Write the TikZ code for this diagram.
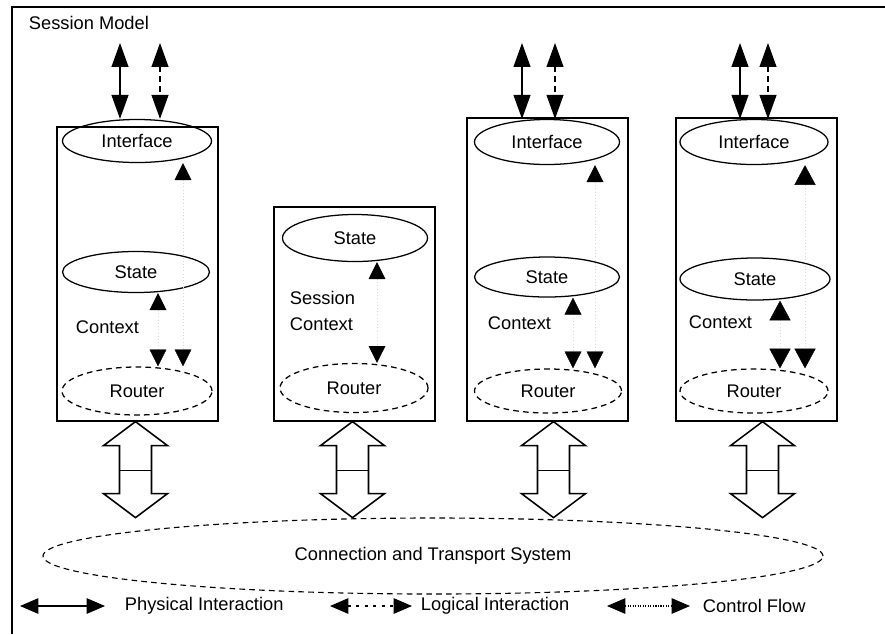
\documentclass[tikz,border=0pt]{standalone}
\usepackage{fontspec}
\setmainfont{Liberation Sans}
\usetikzlibrary{arrows.meta,shapes.geometric,calc}

\def\px{0.025cm}

\tikzset{
    layerbox/.style={draw,line width=0.9pt,inner sep=0pt,minimum width=161*\px},
    part/.style={draw,ellipse,line width=0.9pt,inner sep=0pt,minimum width=147*\px,minimum height=43*\px},
    router/.style={part,dashed,dash pattern=on 4pt off 3pt},
    phys/.style={line width=0.9pt,{Triangle[length=17pt,width=12pt]}-{Triangle[length=17pt,width=12pt]}},
    logic/.style={phys,dashed,dash pattern=on 4pt off 3pt},
    ctrl/.style={line width=0.3pt,black!15,dotted,{Triangle[length=12pt,width=12pt,black]}-{Triangle[length=12pt,width=12pt,black]}},
    bigctrl/.style={ctrl,{Triangle[length=14pt,width=15pt,black]}-{Triangle[length=14pt,width=15pt,black]}},
    legendtip/.style={line width=0.8pt,{Triangle[length=13pt,width=11pt]}-{Triangle[length=13pt,width=11pt]}},
    duplex/.pic={
        \draw[line width=1.1pt,line join=miter] (0,0) -- (32,24) -- (16,24) -- (16,72) -- (32,72)
            -- (0,96) -- (-32,72) -- (-16,72) -- (-16,24) -- (-32,24) -- cycle;
        \draw[line width=0.9pt] (-16,49) -- (16,49);
    }
}

\begin{document}
\begin{tikzpicture}[x={(\px,0)},y={(0,-\px)},
    every node/.style={font=\fontsize{13}{15}\selectfont}]
    \useasboundingbox (0,0) rectangle (885,634);

    % frame of the session model
    \draw[line width=0.9pt] (12,634) -- (12,7) -- (885,7);
    \node[anchor=west] (title) at (24,23) {Session Model};

    % first host
    \node[layerbox,minimum height=294*\px] (box1) at (137.5,274) {};
    \node[part,minimum width=149*\px] (if1) at (137,141) {Interface};
    \node[part,minimum height=41*\px] (st1) at (136,272) {State};
    \node[router,minimum width=150*\px,minimum height=48*\px] (rt1) at (137,391) {Router};
    \node[anchor=west] (cx1) at (71,327) {Context};

    \coordinate (u1a) at (120,43);
    \coordinate (u1b) at (160,43);
    \draw[phys] (u1a) -- (u1a |- if1.north);
    \draw[logic] (u1b) -- (u1b |- if1.north);

    \coordinate (c1a) at (158,0);
    \coordinate (c1b) at (183,0);
    \draw[ctrl] (st1.south -| c1a) -- (rt1.north -| c1a);
    \draw[ctrl] (if1.south -| c1b) -- (rt1.north -| c1b);

    % second host
    \node[layerbox,minimum height=214*\px] (box2) at (354.5,314) {};
    \node[part,minimum width=145*\px,minimum height=47*\px] (st2) at (355,238) {State};
    \node[router,minimum width=148*\px,minimum height=49*\px] (rt2) at (354,388) {Router};
    \node[anchor=west,align=left,font=\fontsize{13}{19}\selectfont] (cx2) at (285,311) {Session\\Context};

    \coordinate (c2) at (377,0);
    \draw[ctrl] (st2.south -| c2) -- (rt2.north -| c2);

    % third host
    \node[layerbox,minimum height=303*\px] (box3) at (547.5,269.5) {};
    \node[part,minimum width=145*\px,minimum height=45*\px] (if3) at (547,142) {Interface};
    \node[part,minimum width=145*\px,minimum height=40*\px] (st3) at (547,277) {State};
    \node[router,minimum height=44*\px] (rt3) at (548,391) {Router};
    \node[anchor=west] (cx3) at (483,323) {Context};

    \coordinate (u3a) at (522,43);
    \coordinate (u3b) at (555,43);
    \draw[phys] (u3a) -- (u3a |- if3.north);
    \draw[logic] (u3b) -- (u3b |- if3.north);

    \coordinate (c3a) at (573,0);
    \coordinate (c3b) at (595,0);
    \draw[ctrl] (st3.south -| c3a) -- (rt3.north -| c3a);
    \draw[ctrl] (if3.south -| c3b) -- (rt3.north -| c3b);

    % fourth host
    \node[layerbox,minimum height=303*\px] (box4) at (756.5,269.5) {};
    \node[part,minimum width=148*\px,minimum height=45*\px] (if4) at (754,142) {Interface};
    \node[part,minimum width=150*\px,minimum height=42*\px] (st4) at (755,279) {State};
    \node[router,minimum width=148*\px,minimum height=44*\px] (rt4) at (754,391) {Router};
    \node[anchor=west] (cx4) at (684,322) {Context};

    \coordinate (u4a) at (740,43);
    \coordinate (u4b) at (768,43);
    \draw[phys] (u4a) -- (u4a |- if4.north);
    \draw[logic] (u4b) -- (u4b |- if4.north);

    \coordinate (c4a) at (780,0);
    \coordinate (c4b) at (805,0);
    \draw[bigctrl] (st4.south -| c4a) -- (rt4.north -| c4a);
    \draw[bigctrl] (if4.south -| c4b) -- (rt4.north -| c4b);

    % links down to the transport system
    \pic at ($(box1.south)+(-2,0)$) {duplex};
    \pic at ($(box2.south)+(-2,0)$) {duplex};
    \pic at ($(box3.south)+(6,0)$) {duplex};
    \pic at ($(box4.south)+(6,0)$) {duplex};

    \node[draw,ellipse,dashed,dash pattern=on 4pt off 3pt,line width=0.8pt,inner sep=0pt,
        minimum width=780*\px,minimum height=76*\px] (net) at (433,556)
        {\raisebox{-4pt}{Connection and Transport System}};

    % legend
    \coordinate (l1a) at (20,606);
    \coordinate (l1b) at (105,606);
    \draw[legendtip] (l1a) -- (l1b);
    \node[anchor=west] (k1) at (120,606) {Physical Interaction};

    \coordinate (l2a) at (330,606);
    \coordinate (l2b) at (412,606);
    \draw[legendtip,dash pattern=on 2pt off 4pt] (l2a) -- (l2b);
    \node[anchor=west] (k2) at (416,606) {Logical Interaction};

    \coordinate (l3a) at (607,606);
    \coordinate (l3b) at (690,606);
    \draw[legendtip,densely dotted] (l3a) -- (l3b);
    \node[anchor=west] (k3) at (698,606) {Control Flow};
\end{tikzpicture}
\end{document}
